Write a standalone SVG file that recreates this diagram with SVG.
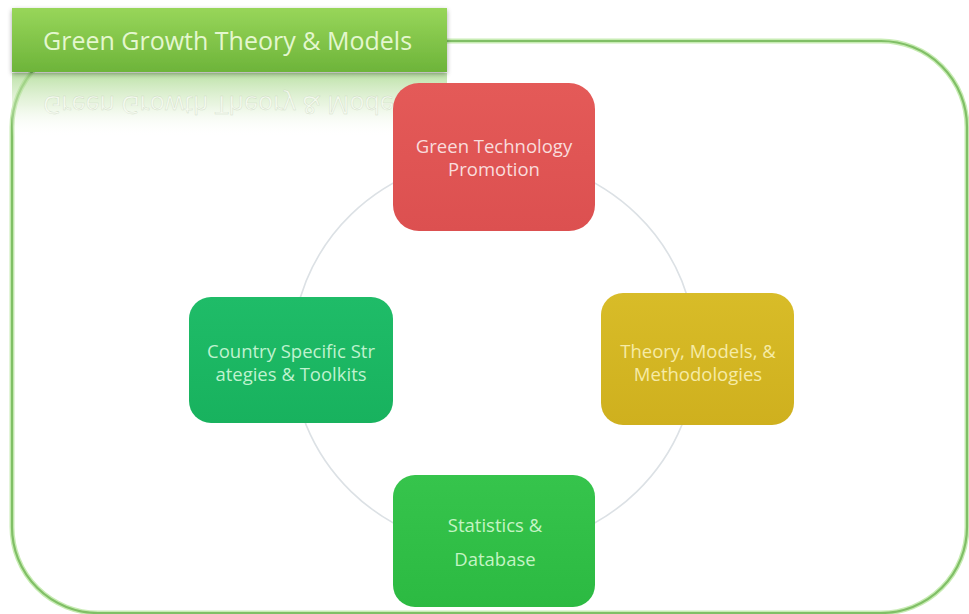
<svg xmlns="http://www.w3.org/2000/svg" width="969" height="614" viewBox="0 0 969 614">
  <defs>
    <linearGradient id="titleFill" x1="0" y1="0" x2="0" y2="1">
      <stop offset="0" stop-color="#98d65a"/>
      <stop offset="1" stop-color="#6db43a"/>
    </linearGradient>
    <linearGradient id="reflectFill" x1="0" y1="0" x2="0" y2="1">
      <stop offset="0" stop-color="#a6d88a" stop-opacity="0.75"/>
      <stop offset="0.5" stop-color="#cfe9bd" stop-opacity="0.45"/>
      <stop offset="1" stop-color="#ffffff" stop-opacity="0"/>
    </linearGradient>
    <linearGradient id="redFill" x1="0" y1="0" x2="0" y2="1">
      <stop offset="0" stop-color="#e45a58"/>
      <stop offset="1" stop-color="#dc5050"/>
    </linearGradient>
    <linearGradient id="yellowFill" x1="0" y1="0" x2="0" y2="1">
      <stop offset="0" stop-color="#d8bc28"/>
      <stop offset="1" stop-color="#cfb01e"/>
    </linearGradient>
    <linearGradient id="tealFill" x1="0" y1="0" x2="0" y2="1">
      <stop offset="0" stop-color="#1fbc68"/>
      <stop offset="1" stop-color="#18b25e"/>
    </linearGradient>
    <linearGradient id="limeFill" x1="0" y1="0" x2="0" y2="1">
      <stop offset="0" stop-color="#36c44c"/>
      <stop offset="1" stop-color="#2cba42"/>
    </linearGradient>
    <filter id="soft" x="-10%" y="-10%" width="120%" height="130%">
      <feGaussianBlur in="SourceAlpha" stdDeviation="2.5"/>
      <feOffset dy="2" result="b"/>
      <feComponentTransfer><feFuncA type="linear" slope="0.35"/></feComponentTransfer>
      <feMerge><feMergeNode/><feMergeNode in="SourceGraphic"/></feMerge>
    </filter>
  </defs>
  <style>
    .lbl { font-family: "Open Sans", "Liberation Sans", sans-serif; font-size: 18.5px; text-anchor: middle; }
    .title { font-family: "Open Sans", "Liberation Sans", sans-serif; font-size: 25px; }
    .ring { fill: none; stroke: #dce1e5; stroke-width: 1.6; }
  </style>

  <rect width="969" height="614" fill="#ffffff"/>

  <!-- outer frame -->
  <g id="frame">
    <rect x="12" y="41" width="955" height="572" rx="86" fill="none" stroke="#c8ecb4" stroke-width="5"/>
    <rect x="12" y="41" width="955" height="572" rx="86" fill="none" stroke="#80bf66" stroke-width="2.2"/>
  </g>

  <!-- cycle ring linking the four nodes -->
  <g id="connectors">
    <ellipse class="ring" cx="494" cy="353" rx="202" ry="196"/>
  </g>

  <!-- title banner with mirrored reflection -->
  <g id="title">
    <rect x="12" y="73" width="435" height="64" fill="url(#reflectFill)"/>
    <text class="title" x="43" y="50" fill="#f6fbf1" fill-opacity="0.9" stroke="#b9c9ad" stroke-width="0.4" stroke-opacity="0.6" transform="translate(0,146) scale(1,-1)">Green Growth Theory &amp; Models</text>
    <rect x="12" y="8" width="435" height="64" fill="url(#titleFill)" filter="url(#soft)"/>
    <text class="title" x="43" y="50" fill="#e4f7cf">Green Growth Theory &amp; Models</text>
  </g>

  <g id="node-technology">
    <rect x="393" y="83" width="202" height="148" rx="26" fill="url(#redFill)"/>
    <text class="lbl" fill="#f9dcdc" x="494" y="153">Green Technology</text>
    <text class="lbl" fill="#f9dcdc" x="494" y="176">Promotion</text>
  </g>

  <g id="node-theory">
    <rect x="601" y="293" width="193" height="132" rx="22" fill="url(#yellowFill)"/>
    <text class="lbl" fill="#f6eba6" x="698" y="358">Theory, Models, &amp;</text>
    <text class="lbl" fill="#f6eba6" x="698" y="381">Methodologies</text>
  </g>

  <g id="node-statistics">
    <rect x="393" y="475" width="202" height="132" rx="22" fill="url(#limeFill)"/>
    <text class="lbl" fill="#c4f4c4" x="495" y="532">Statistics &amp;</text>
    <text class="lbl" fill="#c4f4c4" x="495" y="566">Database</text>
  </g>

  <g id="node-country">
    <rect x="189" y="297" width="204" height="126" rx="22" fill="url(#tealFill)"/>
    <text class="lbl" fill="#bff2cf" x="291" y="358">Country Specific Str</text>
    <text class="lbl" fill="#bff2cf" x="291" y="381">ategies &amp; Toolkits</text>
  </g>
</svg>
